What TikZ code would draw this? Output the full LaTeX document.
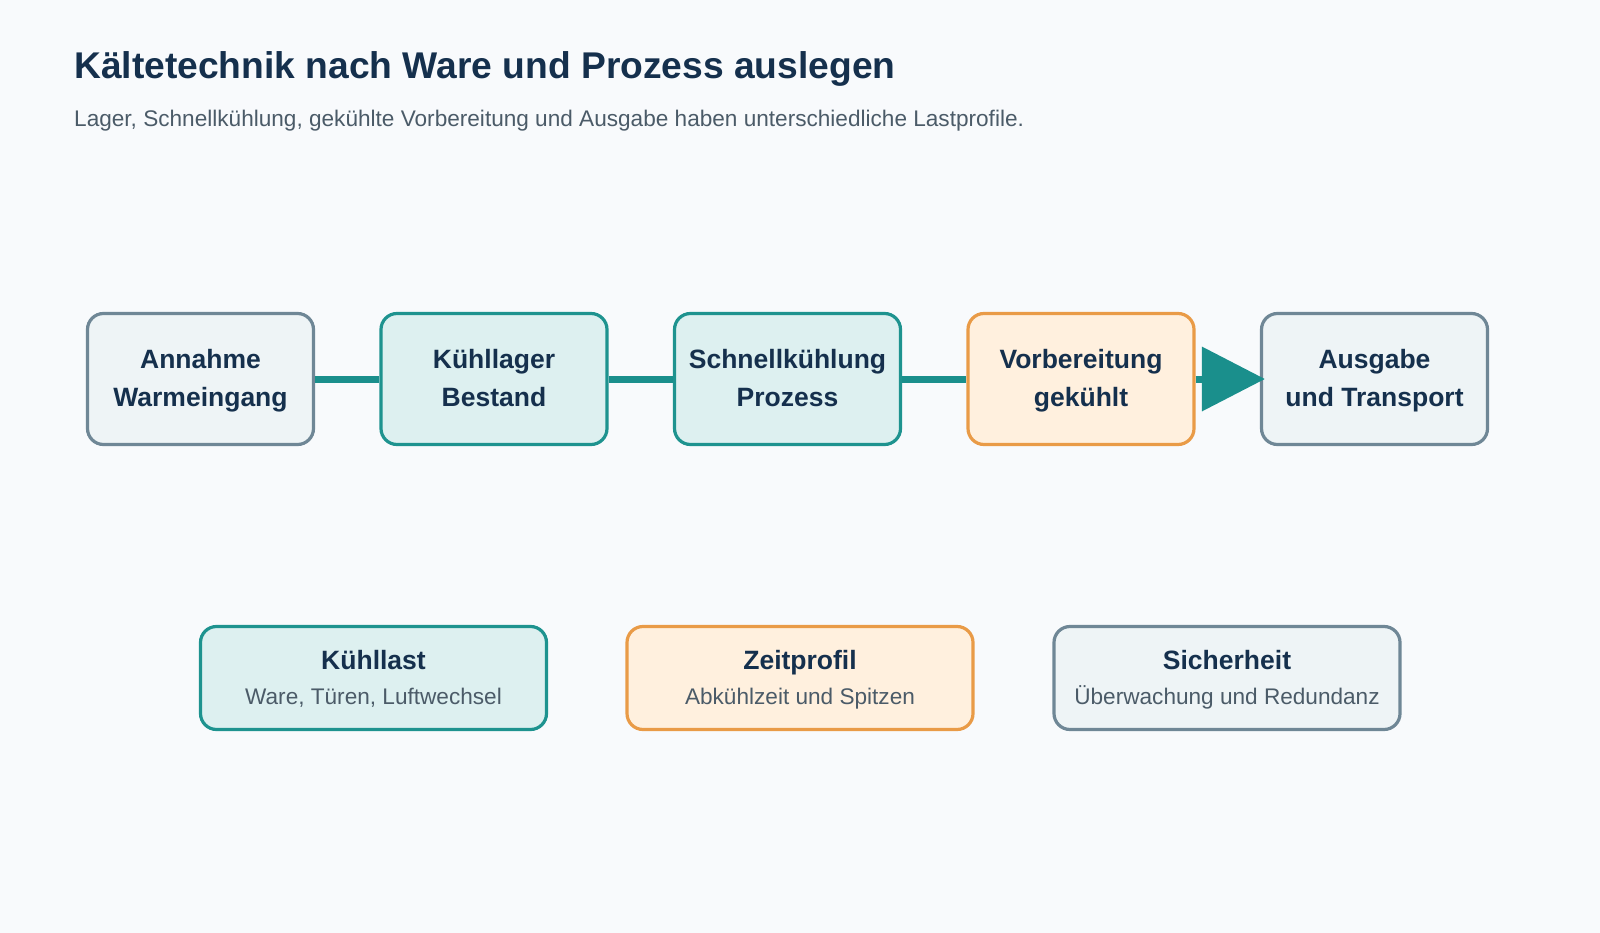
\documentclass[tikz,border=0pt]{standalone}
\usepackage{fontspec}
\setmainfont{Liberation Sans}
\usetikzlibrary{arrows.meta}
\definecolor{bgc}{HTML}{F8FAFC}
\definecolor{navy}{HTML}{15304D}
\definecolor{subgray}{HTML}{4B5B68}
\definecolor{grayline}{HTML}{6F8796}
\definecolor{grayfill}{HTML}{EEF4F6}
\definecolor{tealline}{HTML}{1E938F}
\definecolor{tealfill}{HTML}{DDF0F0}
\definecolor{orline}{HTML}{E99B47}
\definecolor{orfill}{HTML}{FFF0DE}
\definecolor{flow}{HTML}{1A8F8C}
\newcommand{\lstr}{\vphantom{ÄÜgy}}
\tikzset{
  box/.style={draw, line width=3.2pt, rounded corners=16pt, inner sep=0pt,
    text=navy, align=center},
  topbox/.style={box, minimum width=226pt, minimum height=131pt,
    font=\fontsize{26.5}{38}\selectfont\bfseries},
  botbox/.style={box, minimum width=346pt, minimum height=103pt},
  graybox/.style={fill=grayfill, draw=grayline},
  tealbox/.style={fill=tealfill, draw=tealline},
  orbox/.style={fill=orfill, draw=orline},
  bottitle/.style={anchor=base, text=navy, inner sep=0pt, font=\fontsize{26.5}{30}\selectfont\bfseries},
  botsub/.style={anchor=base, text=subgray, inner sep=0pt, font=\fontsize{22.6}{26}\selectfont},
  link/.style={draw=flow, line width=7pt},
}
\begin{document}
\begin{tikzpicture}[x=1pt, y=-1pt]
\fill[bgc] (0,0) rectangle (1600,933);
\useasboundingbox (0,0) rectangle (1600,933);
\node[anchor=base west, inner sep=0pt, text=navy, font=\fontsize{37.2}{42}\selectfont\bfseries] (title) at (74,79) {Kältetechnik nach Ware und Prozess auslegen};
\node[anchor=base west, inner sep=0pt, text=subgray, font=\fontsize{22.6}{26}\selectfont] (subtitle) at (74,127) {Lager, Schnellkühlung, gekühlte Vorbereitung und Ausgabe haben unterschiedliche Lastprofile.};

\node[topbox, graybox] (a) at (200.5,379) {\lstr Annahme\\\lstr Warmeingang};
\node[topbox, tealbox] (b) at (494,379) {\lstr Kühllager\\\lstr Bestand};
\node[topbox, tealbox] (c) at (787.5,379) {\lstr Schnellkühlung\\\lstr Prozess};
\node[topbox, orbox] (d) at (1081,379) {\lstr Vorbereitung\\\lstr gekühlt};
\node[topbox, graybox] (e) at (1374.5,379) {\lstr Ausgabe\\\lstr und Transport};

\draw[link] (a.east) -- (b.west);
\draw[link] (b.east) -- (c.west);
\draw[link] (c.east) -- (d.west);
\draw[link, -{Triangle[length=63pt, width=63pt]}, shorten >=-5pt] (d.east) -- (e.west);

\node[botbox, tealbox] (k) at (373.5,678) {};
\node[botbox, orbox] (z) at (800,678) {};
\node[botbox, graybox] (s) at (1227,678) {};

\node[bottitle] (kt) at (373.5,669) {Kühllast};
\node[botsub] (ks) at (373.5,704) {Ware, Türen, Luftwechsel};
\node[bottitle] (zt) at (800,669) {Zeitprofil};
\node[botsub] (zs) at (800,704) {Abkühlzeit und Spitzen};
\node[bottitle] (st) at (1227,669) {Sicherheit};
\node[botsub] (ss) at (1227,704) {Überwachung und Redundanz};
\end{tikzpicture}
\end{document}
